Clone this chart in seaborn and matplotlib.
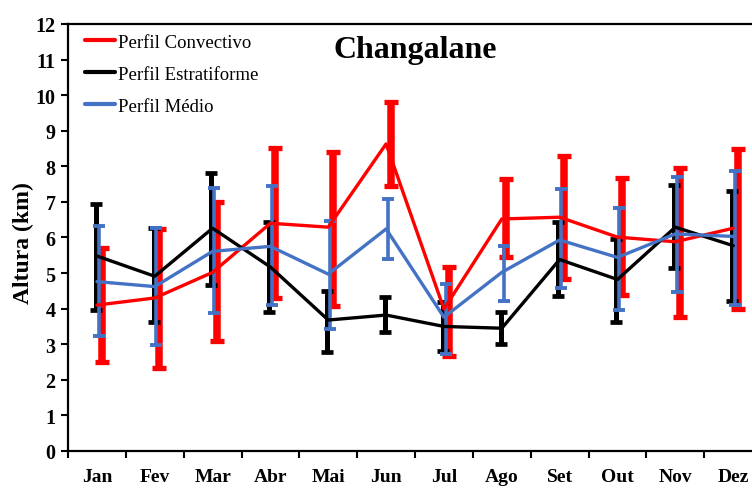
import numpy as np
import pandas as pd
import matplotlib
matplotlib.use("Agg")
import matplotlib.pyplot as plt
import seaborn as sns

# months
meses = ['Jan', 'Fev', 'Mar', 'Abr', 'Mai', 'Jun', 'Jul', 'Ago', 'Set', 'Out', 'Nov', 'Dez']

# Perfil Convectivo (mean, lower, upper) in km
conv = [4.10, 4.30, 5.02, 6.40, 6.29, 8.63, 3.99, 6.52, 6.57, 6.01, 5.88, 6.26]
conv_lo = [2.49, 2.32, 3.09, 4.30, 4.08, 7.46, 2.68, 5.44, 4.82, 4.37, 3.76, 3.99]
conv_hi = [5.70, 6.24, 6.99, 8.51, 8.41, 9.80, 5.16, 7.63, 8.30, 7.66, 7.95, 8.49]

# Perfil Estratiforme
estr = [5.48, 4.91, 6.26, 5.17, 3.68, 3.82, 3.50, 3.45, 5.38, 4.82, 6.29, 5.77]
estr_lo = [3.97, 3.62, 4.67, 3.90, 2.77, 3.35, 2.82, 3.01, 4.35, 3.62, 5.13, 4.22]
estr_hi = [6.94, 6.26, 7.81, 6.44, 4.51, 4.32, 4.18, 3.90, 6.43, 5.96, 7.48, 7.32]

# Perfil Medio
medio = [4.76, 4.62, 5.61, 5.75, 4.97, 6.24, 3.76, 5.02, 5.93, 5.44, 6.10, 6.03]
medio_lo = [3.24, 2.98, 3.88, 4.10, 3.43, 5.40, 2.73, 4.22, 4.57, 3.96, 4.46, 4.10]
medio_hi = [6.32, 6.26, 7.39, 7.46, 6.47, 7.08, 4.69, 5.75, 7.36, 6.82, 7.69, 7.88]

sns.set_style("ticks")
plt.rcParams['font.family'] = ['Liberation Serif', 'DejaVu Serif']
plt.rcParams['font.weight'] = 'bold'
plt.rcParams['text.color'] = 'black'
plt.rcParams['axes.labelcolor'] = 'black'
plt.rcParams['xtick.color'] = 'black'
plt.rcParams['ytick.color'] = 'black'

idx = np.arange(len(meses))
nomes = ['Perfil Convectivo', 'Perfil Estratiforme', 'Perfil Médio']
cores = ['#ff0000', '#000000', '#4472c4']

df = pd.DataFrame({
    'x': np.tile(idx, 3),
    'altura': conv + estr + medio,
    'perfil': np.repeat(nomes, len(meses)),
})

fig = plt.figure(figsize=(7.52, 4.89), dpi=100)
ax = fig.add_axes([0.0904, 0.0757, 0.923, 0.8732])

# error bars (red under black under blue)
barras = [
    (conv, conv_lo, conv_hi, cores[0], 0.08, 5.4, 5.0, 3.8),
    (estr, estr_lo, estr_hi, cores[1], -0.02, 3.6, 4.6, 3.4),
    (medio, medio_lo, medio_hi, cores[2], 0.03, 2.6, 4.2, 2.8),
]
for k, (m, lo, hi, c, dx, lw, cs, ct) in enumerate(barras):
    m = np.array(m)
    yerr = [m - np.array(lo), np.array(hi) - m]
    ax.errorbar(idx + dx, m, yerr=yerr, fmt='none', ecolor=c, elinewidth=lw,
                capsize=cs, capthick=ct, zorder=2 + k)

sns.lineplot(data=df, x='x', y='altura', hue='perfil', hue_order=nomes,
             palette=cores, linewidth=2.4, ax=ax, zorder=6, legend=True)

ax.set_xlim(-0.5, 11.5)
ax.set_ylim(0, 12)
ax.set_yticks(range(0, 13))
ax.set_xticks(np.arange(-0.5, 12, 1))
ax.set_xticklabels([])
ax.set_xticks(idx, minor=True)
ax.set_xticklabels(meses, minor=True)
ax.tick_params(axis='x', which='minor', length=0, pad=12, labelsize=14)
ax.tick_params(axis='x', which='major', length=5, width=1.5, direction='out')
ax.tick_params(axis='y', length=5, width=1.5, direction='out', labelsize=14.5, pad=4)
for lab in ax.get_xticklabels(minor=True) + ax.get_yticklabels():
    lab.set_fontweight('bold')

for s in ['left', 'bottom', 'top', 'right']:
    ax.spines[s].set_linewidth(1.6)
    ax.spines[s].set_color('black')

ax.set_xlabel('')
ax.set_ylabel('Altura (km)', fontsize=17, fontweight='bold')
ax.yaxis.set_label_coords(-0.049, 0.49)
ax.text(0.5, 0.94, 'Changalane', transform=ax.transAxes, ha='center', va='center',
        fontsize=23, fontweight='bold')

leg = ax.legend(loc='upper left', bbox_to_anchor=(0.0245, 0.978), frameon=False,
                prop={'size': 13.5, 'weight': 'normal'}, handlelength=1.6,
                handletextpad=0.15, labelspacing=0.8, borderaxespad=0, borderpad=0)
for h in leg.get_lines():
    h.set_linewidth(3)

fig.savefig('out.png', dpi=100)
